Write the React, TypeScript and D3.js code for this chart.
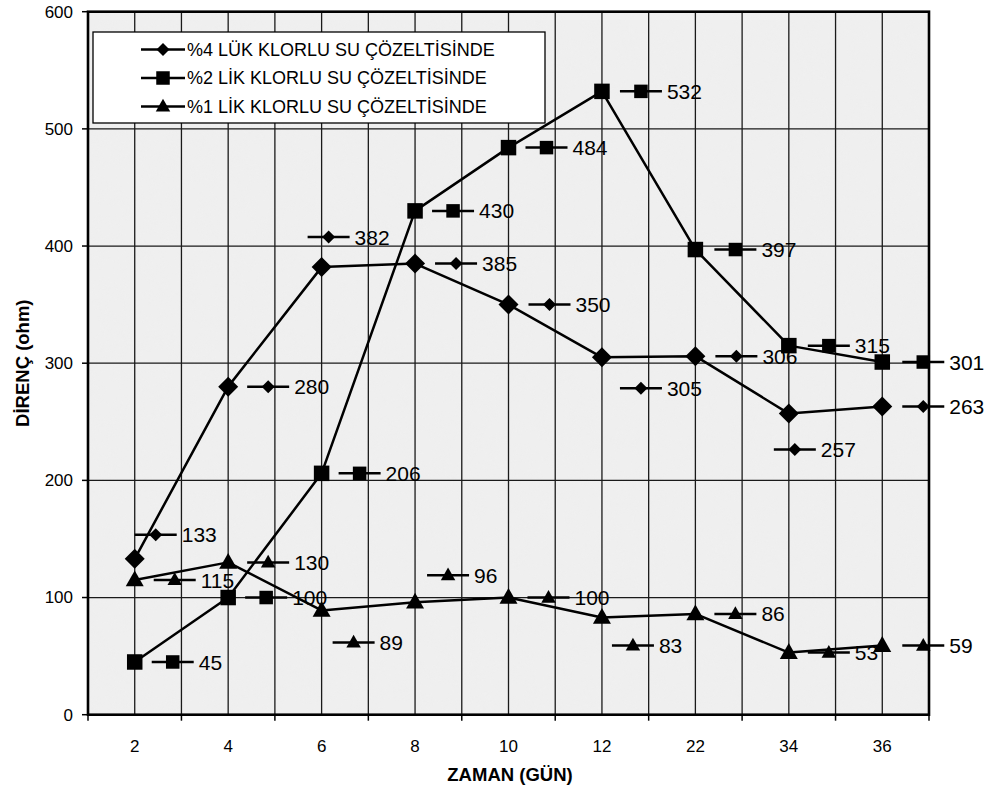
import React from "react";
import * as d3 from "d3";

const categories = ["2", "4", "6", "8", "10", "12", "22", "34", "36"];
const seriesNames = [
  "%4 LÜK KLORLU SU ÇÖZELTİSİNDE",
  "%2 LİK KLORLU SU ÇÖZELTİSİNDE",
  "%1 LİK KLORLU SU ÇÖZELTİSİNDE",
];
const values4 = [133, 280, 382, 385, 350, 305, 306, 257, 263];
const values2 = [45, 100, 206, 430, 484, 532, 397, 315, 301];
const values1 = [115, 130, 89, 96, 100, 83, 86, 53, 59];
const yTicks = [0, 100, 200, 300, 400, 500, 600];
const markerKinds = ["diamond", "square", "triangle"];

// label nudges (px) for the data labels, as placed in the original chart
const nudges4 = [[21, -24], [40, 0], [7, -30], [41, 0], [41, 0], [39, 31], [41, 0], [6, 36], [41, 0]];
const nudges2 = [[38, 0], [38, 0], [38, 0], [38, 0], [38, 0], [39, 0], [40, 0], [40, 0], [41, 0]];
const nudges1 = [[40, 0], [40, 0], [32, 32], [33, -27], [40, 0], [31, 28], [40, 0], [40, 0], [41, 0]];

const W = 996;
const H = 793;
const L = 88, R = 929, T = 11.7, B = 714.7;
const FONT = "'Liberation Sans', Arial, Helvetica, sans-serif";

function Marker({ kind, x, y, s }: { kind: string; x: number; y: number; s: number }) {
  if (kind === "diamond") {
    const h = s / 2;
    return <path d={`M${x},${y - h}L${x + h},${y}L${x},${y + h}L${x - h},${y}Z`} fill="#000" />;
  }
  if (kind === "square") {
    return <rect x={x - s / 2} y={y - s / 2} width={s} height={s} fill="#000" />;
  }
  const w = s, h = s * 0.88;
  return <path d={`M${x},${y - h * 0.6}L${x + w / 2},${y + h * 0.4}L${x - w / 2},${y + h * 0.4}Z`} fill="#000" />;
}

export default function App() {
  const x = d3.scaleBand<string>().domain(categories).range([L, R]).padding(0);
  const y = d3.scaleLinear().domain([0, 600]).range([B, T]);
  const bw = x.bandwidth();
  const cx = (c: string) => (x(c) as number) + bw / 2;

  const series = [
    { name: seriesNames[0], values: values4, kind: markerKinds[0], nudges: nudges4, size: 20, ksize: 13 },
    { name: seriesNames[1], values: values2, kind: markerKinds[1], nudges: nudges2, size: 15.5, ksize: 13.5 },
    { name: seriesNames[2], values: values1, kind: markerKinds[2], nudges: nudges1, size: 18, ksize: 14.5 },
  ];

  const line = d3
    .line<number>()
    .x((_, i) => cx(categories[i]))
    .y((v) => y(v));

  const vLines: number[] = [];
  categories.forEach((c) => {
    vLines.push(x(c) as number);
    vLines.push(cx(c));
  });

  return (
    <svg
      width={W}
      height={H}
      style={{ position: "absolute", left: 0, top: 0, background: "#fff" }}
      fontFamily={FONT}
    >
      <defs>
        <filter id="paper" x="0" y="0" width="100%" height="100%">
          <feTurbulence type="fractalNoise" baseFrequency="0.06" numOctaves="2" seed="3" result="n" />
          <feColorMatrix
            in="n"
            type="matrix"
            values="0 0 0 0 0.86  0 0 0 0 0.86  0 0 0 0 0.86  0 0 0 0.6 -0.2"
          />
        </filter>
      </defs>
      {/* plot background */}
      <rect x={L} y={T} width={R - L} height={B - T} fill="#efefef" />
      <rect x={L} y={T} width={R - L} height={B - T} fill="#e0e0e0" filter="url(#paper)" opacity={0.7} />

      {/* grid */}
      {vLines.map((v, i) => (
        <line key={"v" + i} x1={v} x2={v} y1={T} y2={B} stroke="#1a1a1a" strokeWidth={1.3} />
      ))}
      {yTicks.map((t) => (
        <line key={"h" + t} x1={L} x2={R} y1={y(t)} y2={y(t)} stroke="#1a1a1a" strokeWidth={1.3} />
      ))}

      {/* plot border */}
      <rect x={L} y={T} width={R - L} height={B - T} fill="none" stroke="#000" strokeWidth={2.6} />

      {/* y ticks and labels */}
      {yTicks.map((t) => (
        <g key={"yt" + t}>
          <line x1={L - 6} x2={L} y1={y(t)} y2={y(t)} stroke="#000" strokeWidth={1.5} />
          <text x={73} y={y(t)} dy="0.35em" textAnchor="end" fontSize={17} fill="#000">
            {t}
          </text>
        </g>
      ))}

      {/* x ticks and labels */}
      {categories.map((c) => (
        <line key={"xt" + c} x1={x(c) as number} x2={x(c) as number} y1={B} y2={B + 6} stroke="#000" strokeWidth={1.5} />
      ))}
      <line x1={R} x2={R} y1={B} y2={B + 6} stroke="#000" strokeWidth={1.5} />
      {categories.map((c) => (
        <text key={"xl" + c} x={cx(c)} y={752} textAnchor="middle" fontSize={17} fill="#000">
          {c}
        </text>
      ))}

      {/* axis titles */}
      <text x={510} y={781} textAnchor="middle" fontSize={18.5} fontWeight="bold" fill="#000">
        ZAMAN (GÜN)
      </text>
      <text
        transform={`translate(29, ${(T + B) / 2}) rotate(-90)`}
        textAnchor="middle"
        fontSize={18.5}
        fontWeight="bold"
        fill="#000"
      >
        DİRENÇ (ohm)
      </text>

      {/* series lines + markers */}
      {series.map((s) => (
        <g key={s.name}>
          <path d={line(s.values) || ""} fill="none" stroke="#000" strokeWidth={2.5} strokeLinejoin="round" />
          {s.values.map((v, i) => (
            <Marker key={i} kind={s.kind} x={cx(categories[i])} y={y(v)} s={s.size} />
          ))}
        </g>
      ))}

      {/* data labels with legend keys */}
      {series.map((s) => (
        <g key={"lab" + s.name}>
          {s.values.map((v, i) => {
            const kx = cx(categories[i]) + s.nudges[i][0];
            const ky = y(v) + s.nudges[i][1];
            return (
              <g key={i}>
                <line x1={kx - 21} x2={kx + 21} y1={ky} y2={ky} stroke="#000" strokeWidth={2.5} />
                <Marker kind={s.kind} x={kx} y={ky} s={s.ksize} />
                <text x={kx + 26} y={ky} dy="0.36em" fontSize={21} fill="#000">
                  {v}
                </text>
              </g>
            );
          })}
        </g>
      ))}

      {/* legend */}
      <rect x={93} y={32} width={452} height={91} fill="#fff" stroke="#000" strokeWidth={1.3} />
      {series.map((s, i) => {
        const ly = 49.5 + i * 28.5;
        return (
          <g key={"leg" + i}>
            <line x1={141} x2={185} y1={ly} y2={ly} stroke="#000" strokeWidth={2.5} />
            <Marker kind={s.kind} x={163} y={ly} s={s.ksize} />
            <text x={187} y={ly} dy="0.36em" fontSize={18} fill="#000">
              {s.name}
            </text>
          </g>
        );
      })}
    </svg>
  );
}
